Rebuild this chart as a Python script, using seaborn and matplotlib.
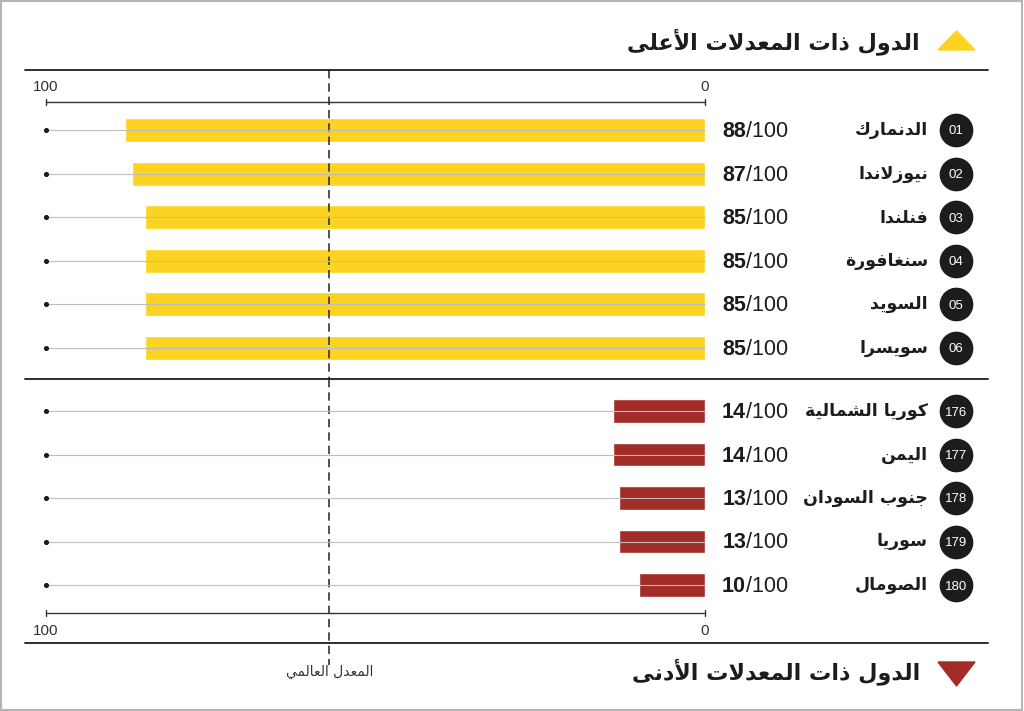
import pandas as pd
import seaborn as sns
import matplotlib.pyplot as plt
from matplotlib.lines import Line2D
from matplotlib.patches import Polygon, Rectangle

# chart data
top_names = ['الدنمارك', 'نيوزلاندا', 'فنلندا', 'سنغافورة', 'السويد', 'سويسرا']
top_ranks = ['01', '02', '03', '04', '05', '06']
top_scores = [88, 87, 85, 85, 85, 85]

bot_names = ['كوريا الشمالية', 'اليمن', 'جنوب السودان', 'سوريا', 'الصومال']
bot_ranks = ['176', '177', '178', '179', '180']
bot_scores = [14, 14, 13, 13, 10]

avg_line = 57  # where the dashed "world average" line sits on the scale
scale_max = 100

title_top = 'الدول ذات المعدلات الأعلى'
title_bot = 'الدول ذات المعدلات الأدنى'
avg_label = 'المعدل العالمي'

YELLOW = '#FCD320'
RED = '#A12C28'
DARK = '#1c1c1c'

# --- minimal arabic shaping (matplotlib does no joining / bidi) ---
BASE = {'ا': (0xFE8D, False), 'أ': (0xFE83, False), 'ب': (0xFE8F, True),
        'ة': (0xFE93, False), 'ت': (0xFE95, True), 'ج': (0xFE9D, True),
        'د': (0xFEA9, False), 'ذ': (0xFEAB, False), 'ر': (0xFEAD, False),
        'ز': (0xFEAF, False), 'س': (0xFEB1, True), 'ش': (0xFEB5, True),
        'ص': (0xFEB9, True), 'ع': (0xFEC9, True), 'غ': (0xFECD, True),
        'ف': (0xFED1, True), 'ك': (0xFED9, True), 'ل': (0xFEDD, True),
        'م': (0xFEE1, True), 'ن': (0xFEE5, True), 'ه': (0xFEE9, True),
        'و': (0xFEED, False), 'ى': (0xFEEF, False), 'ي': (0xFEF1, True)}
LAM_ALEF = {'ا': 0xFEFB, 'أ': 0xFEF7}


def shape(text):
    units = []
    i = 0
    while i < len(text):
        c = text[i]
        if c == 'ل' and i + 1 < len(text) and text[i + 1] in LAM_ALEF:
            units.append((LAM_ALEF[text[i + 1]], False))
            i += 2
            continue
        units.append(BASE.get(c, (c, None)))
        i += 1
    out = []
    for k, (base, dual) in enumerate(units):
        if dual is None:
            out.append(base)
            continue
        prev_ok = k > 0 and units[k - 1][1] is True
        next_ok = dual and k + 1 < len(units) and units[k + 1][1] is not None
        if prev_ok and next_ok:
            code = base + 3
        elif prev_ok:
            code = base + 1
        elif next_ok:
            code = base + 2
        else:
            code = base
        out.append(chr(code))
    return ''.join(out)[::-1]


AR = ['DejaVu Sans Condensed', 'DejaVu Sans']
NUM = ['Liberation Sans', 'DejaVu Sans']
NARROW = ['Liberation Sans Narrow', 'Liberation Sans', 'DejaVu Sans']

W, H = 1024, 711
PX = (705 - 46) / scale_max  # pixels per score point


def xval(px):
    return (705 - px) / PX


sns.set_theme(style='white')
fig = plt.figure(figsize=(W / 100, H / 100), dpi=100)
fig.patch.set_facecolor('white')

ax_top = fig.add_axes([0, 1 - 379 / H, 1, 379 / H])
ax_bot = fig.add_axes([0, 0, 1, 332 / H])

panels = [
    (ax_top, top_names, top_ranks, top_scores, YELLOW, 130, 43.6, 0, 379, 102, 86),
    (ax_bot, bot_names, bot_ranks, bot_scores, RED, 411, 43.5, 379, 711, 613, 630),
]

for ax, names, ranks, scores, color, y0, step, top_px, bot_px, axis_px, lab_px in panels:
    def yv(px):
        return (px - y0) / step

    df = pd.DataFrame({'name': names, 'score': scores})
    n = len(df)
    sns.barplot(data=df, x='score', y='name', orient='h', color=color,
                width=0.55, saturation=1, ax=ax, zorder=2)
    ax.set_xlim(xval(0), xval(W))
    ax.set_ylim(yv(bot_px), yv(top_px))
    ax.set_axis_off()

    rows = list(range(n))
    ax.hlines(rows, 0, scale_max, color='#bdbdbd', lw=0.8, zorder=3)
    ax.scatter([scale_max] * n, rows, s=7, color=DARK, zorder=4)

    # scale line with end ticks
    ya = yv(axis_px)
    ax.plot([0, scale_max], [ya, ya], color='#333333', lw=1.0)
    for xe in (0, scale_max):
        ax.plot([xe, xe], [ya - 0.07, ya + 0.07], color='#333333', lw=1.0)
        ax.text(xe, yv(lab_px + 1), str(xe), ha='center', va='center',
                fontsize=11, color='#333333', family=NUM)

    dy = 1.5 / step  # nudge digits to optical centre
    for r, (nm, rk, sc) in enumerate(zip(names, ranks, scores)):
        ax.text(xval(746), r + dy, str(sc), ha='right', va='center', fontsize=15.5,
                fontweight='bold', color=DARK, family=NUM)
        ax.text(xval(746), r + dy, '/%d' % scale_max, ha='left', va='center',
                fontsize=15.5, color=DARK, family=NUM)
        ax.text(xval(928), r, shape(nm), ha='right', va='center', fontsize=12.5,
                fontweight='bold', color=DARK, family=AR)
        ax.scatter([xval(956)], [r], s=540, color=DARK, zorder=4)
        ax.text(xval(956), r + dy, rk, ha='center', va='center', fontsize=9.5,
                color='white', family=NARROW, zorder=5)

# dashed average line
ax_top.plot([avg_line, avg_line], [(70 - 130) / 43.6, (379 - 130) / 43.6],
            color='#333333', lw=1.2, ls=(0, (5, 3)))
ax_bot.plot([avg_line, avg_line], [(379 - 411) / 43.5, (665 - 411) / 43.5],
            color='#333333', lw=1.2, ls=(0, (5, 3)))
ax_bot.text(avg_line, (672 - 411) / 43.5, shape(avg_label), ha='center',
            va='center', fontsize=10, color='#333333', family=AR)


# separators, titles, triangles (figure pixel coords)
def fx(px):
    return px / W


def fy(py):
    return 1 - py / H


for py in (70, 379, 643):
    fig.add_artist(Line2D([fx(25), fx(988)], [fy(py), fy(py)], color=DARK, lw=1.3))

fig.text(fx(920), fy(42), shape(title_top), ha='right', va='center',
         fontsize=16, fontweight='bold', color=DARK, family=AR)
fig.text(fx(920), fy(672), shape(title_bot), ha='right', va='center',
         fontsize=16, fontweight='bold', color=DARK, family=AR)
fig.add_artist(Polygon([[fx(938), fy(50)], [fx(975), fy(50)], [fx(956.5), fy(31)]],
                       closed=True, color=YELLOW, transform=fig.transFigure))
fig.add_artist(Polygon([[fx(938), fy(662)], [fx(975), fy(662)], [fx(956.5), fy(686)]],
                       closed=True, color=RED, transform=fig.transFigure))
fig.add_artist(Rectangle((0.001, 0.002), 0.997, 0.996, fill=False, ec='#b5b5b5',
                         lw=1.5, transform=fig.transFigure))

fig.savefig('out.png', dpi=100)
